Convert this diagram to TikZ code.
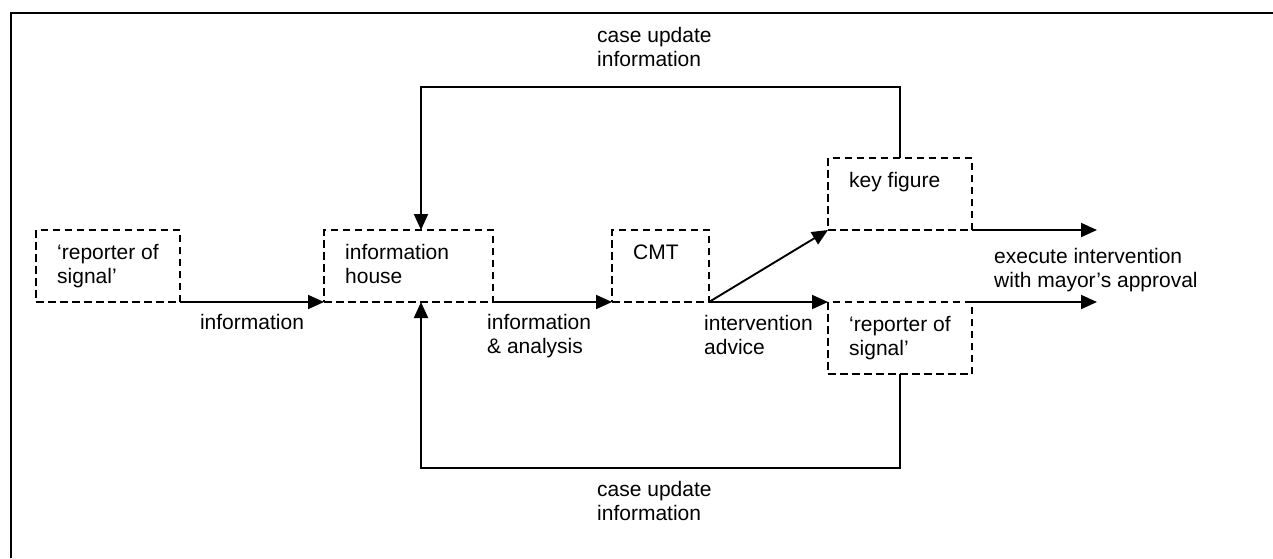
\documentclass[tikz,border=0pt]{standalone}
\usepackage{fontspec}
\setmainfont{Liberation Sans}
\usetikzlibrary{arrows.meta,calc}
\begin{document}
\begin{tikzpicture}[x=1pt,y=-1pt,
  box/.style={draw, dash pattern=on 7.5pt off 4.5pt, line width=1.6pt, inner sep=0pt, outer sep=0pt, anchor=north west},
  txt/.style={font=\fontsize{21}{24}\selectfont, align=left, inner sep=0pt, anchor=north west},
  conn/.style={line width=1.9pt, -{Triangle[length=16pt,width=14pt]}},
  frame/.style={line width=1.5pt}]
\useasboundingbox (0,0) rectangle (1273,558);
\draw[frame] (1273,13) -- (11,13) -- (11,558);

% boxes
\node[box, minimum width=144pt, minimum height=72pt] (rep1) at (36,230) {};
\node[box, minimum width=169pt, minimum height=72pt] (house) at (324,230) {};
\node[box, minimum width=97pt, minimum height=72pt] (cmt) at (612,230) {};
\node[box, minimum width=144pt, minimum height=72pt] (key) at (828,158) {};
\node[box, minimum width=144pt, minimum height=72pt] (rep2) at (828,302) {};

% texts inside boxes
\node[txt] (trep1) at ($(rep1.north west)+(21,12.7)$) {\strut‘reporter of\\signal’};
\node[txt] (thouse) at ($(house.north west)+(21,12.7)$) {\strut information\\house};
\node[txt] (tcmt) at ($(cmt.north west)+(21,12.7)$) {\strut CMT};
\node[txt] (tkey) at ($(key.north west)+(21,12.7)$) {\strut key figure};
\node[txt] (trep2) at ($(rep2.north west)+(21,12.7)$) {\strut‘reporter of\\signal’};

% free ends
\coordinate (out1) at (1097,230);
\coordinate (out2) at (1097,302);

% connectors
\draw[conn] (rep1.south east) -- (house.south west);
\draw[conn] (house.south east) -- (cmt.south west);
\draw[conn] (cmt.south east) -- (key.south west);
\draw[conn] (cmt.south east) -- (rep2.north west);
\draw[conn] (key.south east) -- (out1);
\draw[conn] (rep2.north east) -- (out2);
\draw[conn] (key.north) |- ($(house.north west)+(97,-143)$) -- ($(house.north west)+(97,0)$);
\draw[conn] (rep2.south) |- ($(house.south west)+(97,166)$) -- ($(house.south west)+(97,0)$);

% connector labels
\node[txt, anchor=north] (linfo) at (252,312.7) {\strut information};
\node[txt] (lana) at (487,312.7) {\strut information\\\& analysis};
\node[txt] (ladv) at (704,313) {\strut intervention\\advice};
\node[txt] (lexe) at (994,246.7) {\strut execute intervention\\with mayor’s approval};
\node[txt] (ltop) at (597,25.7) {\strut case update\\information};
\node[txt] (lbot) at (597,479.7) {\strut case update\\information};
\end{tikzpicture}
\end{document}
